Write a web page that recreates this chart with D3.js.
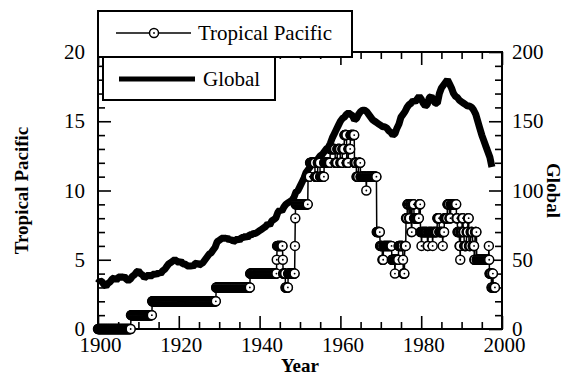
<!DOCTYPE html>
<html><head><meta charset="utf-8">
<script src="https://cdn.jsdelivr.net/npm/d3@7"></script>
<style>body{margin:0;background:#fff}svg{display:block}</style>
</head><body>
<svg id="c" width="568" height="375"></svg>
<script>
// ---- data ----
const globalStartYear = 1900, globalStep = 0.5;
const globalValues = [
 33,35,34,32,31,33,34,36,37,35,37,38,37,38,36,35,36,38,39,41,
 42,40,39,37,38,39,38,39,40,39,41,40,42,43,45,47,48,49,50,49,
 48,49,47,47,46,45,46,45,47,48,46,47,48,50,52,54,55,57,59,63,
 64,65,66,65,66,64,65,63,64,65,64,66,66,67,66,68,68,69,69,70,
 71,72,73,74,76,75,78,79,80,84,86,85,88,90,91,92,93,95,99,100,
 103,106,109,113,115,117,119,120,121,123,125,126,128,130,131,134,138,141,144,147,
 150,152,153,155,156,155,154,151,152,155,157,158,158,157,155,153,151,150,149,148,
 147,146,146,145,143,142,140,141,145,148,153,155,157,160,162,163,165,164,166,168,
 166,163,161,162,167,168,165,163,163,170,174,176,178,180,177,174,170,168,167,165,
 164,163,162,161,161,160,158,155,150,145,140,136,132,128,124,117];
const tpChangeYears = [
 1900.00,1908.17,1913.42,1929.25,1937.67,1944.25,1944.33,1945.75,1945.83,1946.42,
 1947.08,1948.75,1948.83,1948.92,1952.00,1952.50,1953.75,1954.42,1955.00,1956.00,
 1957.50,1958.75,1959.25,1960.00,1960.50,1961.00,1961.58,1962.00,1962.50,1963.50,
 1964.00,1964.50,1965.00,1966.42,1966.50,1969.00,1969.83,1970.42,1970.67,1972.75,
 1973.50,1973.58,1974.42,1975.50,1975.58,1975.92,1976.25,1976.58,1977.00,1977.25,
 1977.58,1977.75,1978.25,1979.50,1979.83,1980.08,1980.17,1981.58,1981.75,1982.83,
 1982.92,1984.00,1984.50,1985.33,1985.42,1985.75,1986.50,1987.00,1987.33,1988.75,
 1989.00,1989.50,1989.67,1989.75,1990.17,1990.42,1990.67,1991.25,1991.58,1991.83,
 1992.25,1992.75,1993.17,1993.33,1993.75,1996.75,1996.83,1996.92,1997.42,1997.67,
 1997.83];
const tpChangeValues = [
 0,1,2,3,4,5,6,5,4,3,
 4,6,8,9,11,12,11,12,11,12,
 13,12,13,12,13,14,12,13,14,12,
 11,12,11,10,11,7,6,5,6,5,
 4,5,6,5,4,6,8,9,8,9,
 7,9,8,9,7,6,7,6,7,6,
 7,8,7,6,7,8,9,8,9,8,
 7,6,5,7,8,7,6,7,8,6,
 7,6,5,7,5,6,5,4,3,4,
 3];
const tpEndYear = 1998.25;
const xMajor = [1900,1920,1940,1960,1980,2000];
const leftMajor = [0,5,10,15,20];
const rightMajor = [0,50,100,150,200];
const legendLabels = ["Tropical Pacific","Global"];
const axisTitles = {left:"Tropical Pacific", right:"Global", bottom:"Year"};

// ---- build series ----
const globalData = globalValues.map((v,i)=>({t:globalStartYear+i*globalStep, v}));
const tpData = [];
for (let m=0; 1900+m/12 <= tpEndYear+1e-9; m++) {
  const t = 1900+m/12;
  let idx = 0;
  for (let i=0;i<tpChangeYears.length;i++) if (tpChangeYears[i] <= t+0.01) idx = i;
  tpData.push({t, v: tpChangeValues[idx]});
}

// ---- scales ----
const L=98, R=502, T=52, B=329;
const x = d3.scaleLinear([1900,2000],[L,R]);
const yL = d3.scaleLinear([0,20],[B,T]);
const yR = d3.scaleLinear([0,200],[B,T]);
const svg = d3.select("#c");
const FONT = "'Liberation Serif','Times New Roman',serif";

// ---- axes ----
function styleAxis(g){ g.select(".domain").remove(); g.selectAll("line").attr("stroke","#000").attr("stroke-width",1.6);
  g.selectAll("text").attr("font-family",FONT).attr("font-size",21).attr("fill","#000"); }
const xMinor = d3.range(1900,2001,5).filter(v=>!xMajor.includes(v));
const lMinor = d3.range(0,21,1).filter(v=>!leftMajor.includes(v));
const rMinor = d3.range(0,201,10).filter(v=>!rightMajor.includes(v));

svg.append("g").attr("transform",`translate(0,${B})`).call(d3.axisBottom(x).tickValues(xMinor).tickSize(-7).tickFormat("")).call(styleAxis);
const xb = svg.append("g").attr("transform",`translate(0,${B})`).call(d3.axisBottom(x).tickValues(xMajor).tickSize(-13).tickPadding(8).tickFormat(d3.format("d"))).call(styleAxis);
xb.selectAll("text").attr("dx",2);
svg.append("g").attr("transform",`translate(0,${T})`).call(d3.axisTop(x).tickValues(xMinor).tickSize(-7).tickFormat("")).call(styleAxis);
svg.append("g").attr("transform",`translate(0,${T})`).call(d3.axisTop(x).tickValues(xMajor).tickSize(-13).tickFormat("")).call(styleAxis);

svg.append("g").attr("transform",`translate(${L},0)`).call(d3.axisLeft(yL).tickValues(lMinor).tickSize(-7).tickFormat("")).call(styleAxis);
svg.append("g").attr("transform",`translate(${L},0)`).call(d3.axisLeft(yL).tickValues(leftMajor).tickSize(-13).tickPadding(13).tickFormat(d3.format("d"))).call(styleAxis);
svg.append("g").attr("transform",`translate(${R},0)`).call(d3.axisRight(yR).tickValues(rMinor).tickSize(-7).tickFormat("")).call(styleAxis);
svg.append("g").attr("transform",`translate(${R},0)`).call(d3.axisRight(yR).tickValues(rightMajor).tickSize(-13).tickPadding(10).tickFormat(d3.format("d"))).call(styleAxis);

svg.append("rect").attr("x",L).attr("y",T).attr("width",R-L).attr("height",B-T)
  .attr("fill","none").attr("stroke","#000").attr("stroke-width",2);

// ---- axis titles ----
svg.append("text").attr("transform",`translate(28,${(T+B)/2}) rotate(-90)`).attr("text-anchor","middle")
  .attr("font-family",FONT).attr("font-weight","bold").attr("font-size",19).text(axisTitles.left);
svg.append("text").attr("transform",`translate(547,${(T+B)/2}) rotate(90)`).attr("text-anchor","middle")
  .attr("font-family",FONT).attr("font-weight","bold").attr("font-size",19).text(axisTitles.right);
svg.append("text").attr("x",300).attr("y",372).attr("text-anchor","middle")
  .attr("font-family",FONT).attr("font-weight","bold").attr("font-size",19).text(axisTitles.bottom);

// ---- global series ----
svg.append("path").datum(globalData)
  .attr("d", d3.line().x(d=>x(d.t)).y(d=>yR(d.v)))
  .attr("fill","none").attr("stroke","#000").attr("stroke-width",7).attr("stroke-linejoin","bevel");

// ---- tropical pacific series ----
svg.append("path").datum(tpData)
  .attr("d", d3.line().x(d=>x(d.t)).y(d=>yL(d.v)))
  .attr("fill","none").attr("stroke","#000").attr("stroke-width",1.5);
const tpg = svg.append("g");
tpData.forEach(d=>{
  tpg.append("circle").attr("cx",x(d.t)).attr("cy",yL(d.v)).attr("r",4.5)
    .attr("fill","#fff").attr("stroke","#000").attr("stroke-width",1.5);
  tpg.append("circle").attr("cx",x(d.t)).attr("cy",yL(d.v)).attr("r",0.9).attr("fill","#000");
});

// ---- legend ----
const lg = svg.append("g");
lg.append("rect").attr("x",98).attr("y",11).attr("width",254).attr("height",46)
  .attr("fill","#fff").attr("stroke","#000").attr("stroke-width",2);
lg.append("line").attr("x1",116).attr("x2",191).attr("y1",33).attr("y2",33).attr("stroke","#000").attr("stroke-width",1.5);
lg.append("circle").attr("cx",154).attr("cy",33).attr("r",4.5).attr("fill","#fff").attr("stroke","#000").attr("stroke-width",1.5);
lg.append("circle").attr("cx",154).attr("cy",33).attr("r",0.9).attr("fill","#000");
lg.append("text").attr("x",198).attr("y",40).attr("font-family",FONT).attr("font-size",21).text(legendLabels[0]);
lg.append("rect").attr("x",103).attr("y",57).attr("width",172).attr("height",43)
  .attr("fill","#fff").attr("stroke","#000").attr("stroke-width",2);
lg.append("line").attr("x1",119).attr("x2",195).attr("y1",79).attr("y2",79).attr("stroke","#000").attr("stroke-width",5);
lg.append("text").attr("x",203).attr("y",86).attr("font-family",FONT).attr("font-size",21).text(legendLabels[1]);
</script>
</body></html>
